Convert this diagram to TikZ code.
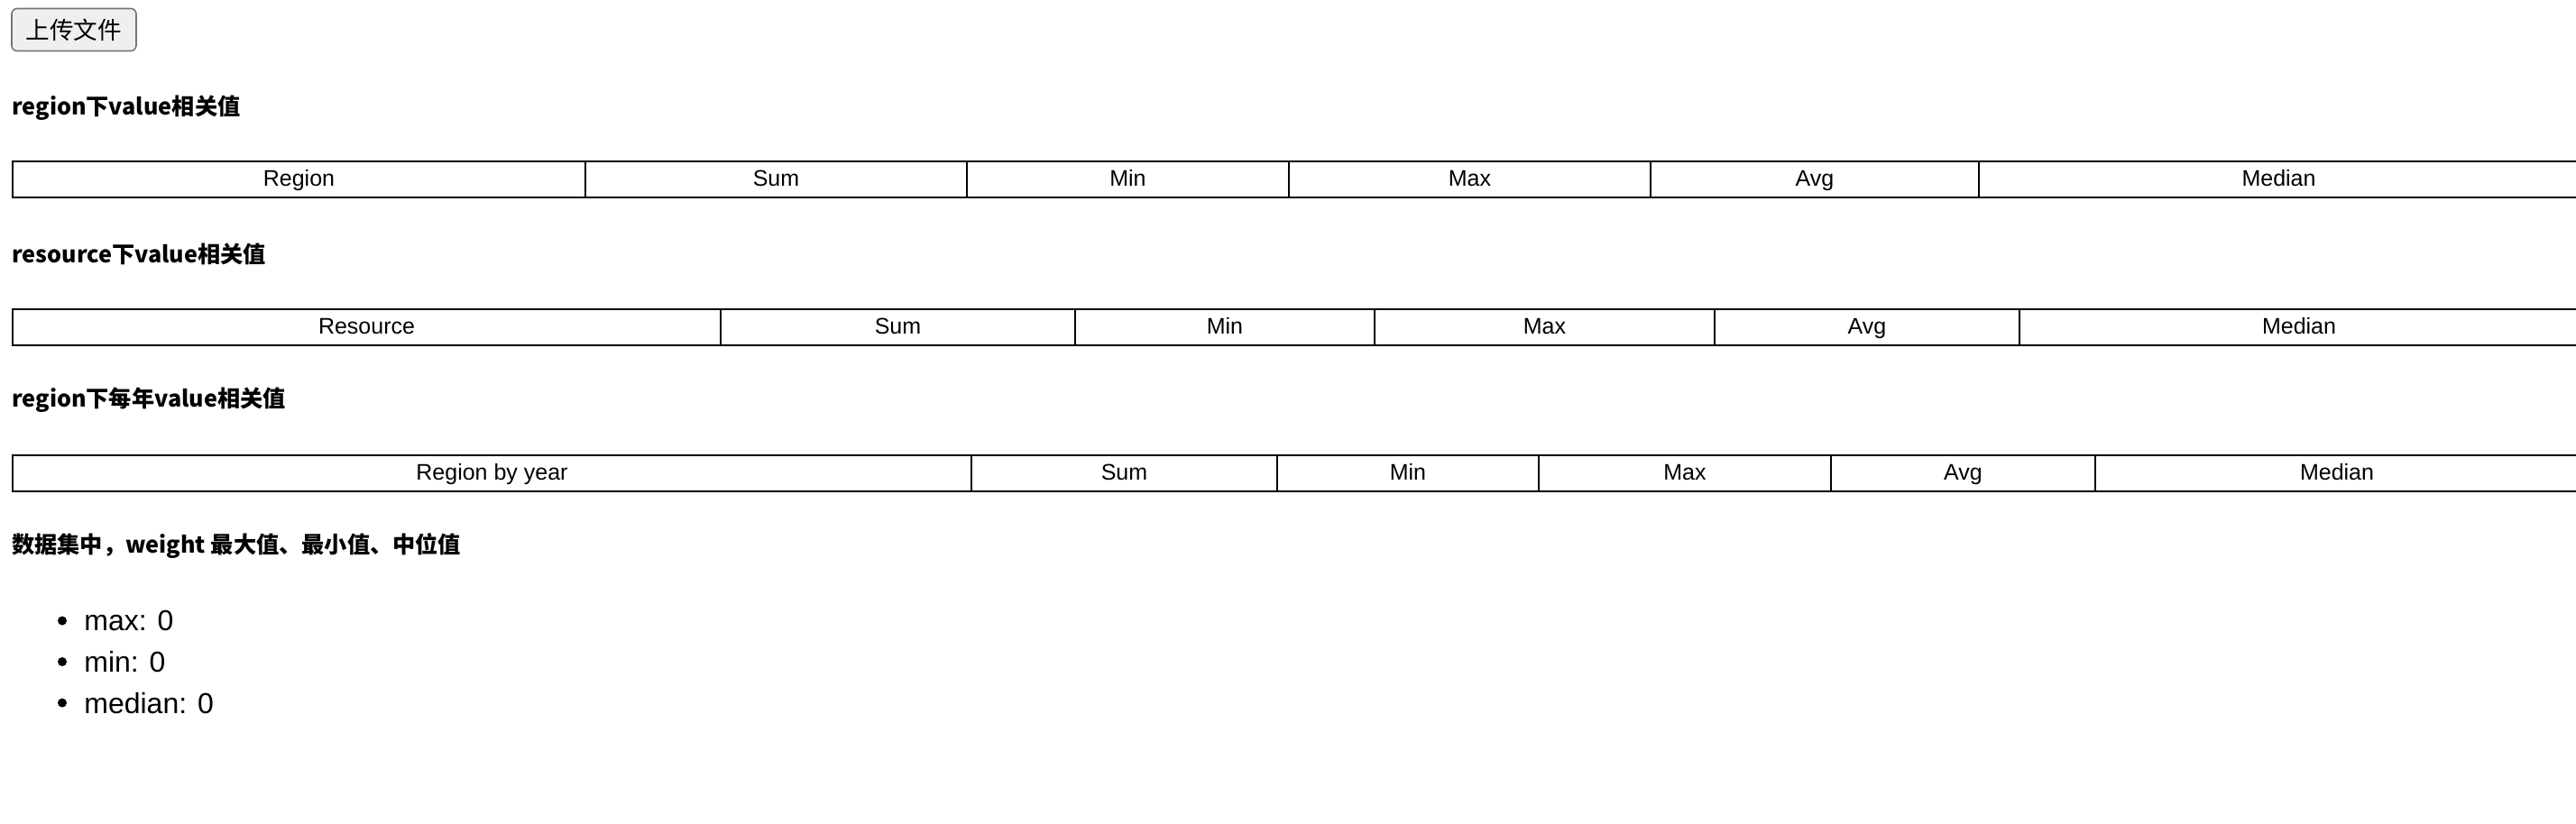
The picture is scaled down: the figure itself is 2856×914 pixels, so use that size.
\documentclass[tikz,border=0pt]{standalone}
\usepackage{fontspec}
\setmainfont{Liberation Sans}
\newfontfamily\cjk{Noto Sans CJK SC}
\usetikzlibrary{positioning}
\definecolor{btnfill}{HTML}{EFEFEF}
\definecolor{btnline}{HTML}{767676}
\tikzset{
	cell/.style={draw, line width=1pt, minimum height=20pt, inner sep=0pt,
		text height=0.72em, text depth=0em,
		anchor=west, font=\fontsize{12.5}{15}\selectfont},
	heading/.style={anchor=west, inner sep=0pt,
		font=\cjk\bfseries\fontsize{12.6}{15}\selectfont},
	item/.style={anchor=west, inner sep=0pt, font=\fontsize{16}{19}\selectfont},
	dot/.style={circle, fill, inner sep=0pt, minimum size=5pt},
	button/.style={draw=btnline, fill=btnfill, line width=0.8pt, rounded corners=3pt,
		minimum width=69pt, minimum height=23.5pt, inner sep=0pt,
		font=\cjk\fontsize{13.3}{16}\selectfont},
}

\begin{document}
\begin{tikzpicture}[x=0.5pt, y=-0.5pt]
\useasboundingbox (0,0) rectangle (2856,914);

% the button
\node[button] (upload) at (82,33) {上传文件};

% the headings
\node[heading] (h1) at (13,120) {region下value相关值};
\node[heading] (h2) at (13,282) {resource下value相关值};
\node[heading] (h3) at (13,444) {region下每年value相关值};
\node[heading] (h4) at (13,606) {数据集中，weight 最大值、最小值、中位值};

% the tables
\foreach \l/\r/\t [count=\i] in {13/648/Region,648/1071/Sum,1071/1428/Min,
	1428/1829/Max,1829/2193/Avg,2193/2858/Median}
{
	\pgfmathsetmacro\w{(\r-\l)/2}
	\node[cell, minimum width=\w pt] (a\i) at (\l,199.5) {\t};
}
\foreach \l/\r/\t [count=\i] in {13/798/Resource,798/1191/Sum,1191/1523/Min,
	1523/1900/Max,1900/2238/Avg,2238/2858/Median}
{
	\pgfmathsetmacro\w{(\r-\l)/2}
	\node[cell, minimum width=\w pt] (b\i) at (\l,363.5) {\t};
}
\foreach \l/\r/\t [count=\i] in {13/1076/Region by year,1076/1415/Sum,1415/1705/Min,
	1705/2029/Max,2029/2322/Avg,2322/2858/Median}
{
	\pgfmathsetmacro\w{(\r-\l)/2}
	\node[cell, minimum width=\w pt] (c\i) at (\l,525.5) {\t};
}

% the list
\node[item] (max) at (93,688.5) {max: 0};
\node[item] (min) at (93,734) {min: 0};
\node[item] (med) at (93,779.6) {median: 0};
\node[dot] (d1) at (69,688.5) {};
\node[dot] (d2) at (69,734) {};
\node[dot] (d3) at (69,779.6) {};

\end{tikzpicture}
\end{document}
